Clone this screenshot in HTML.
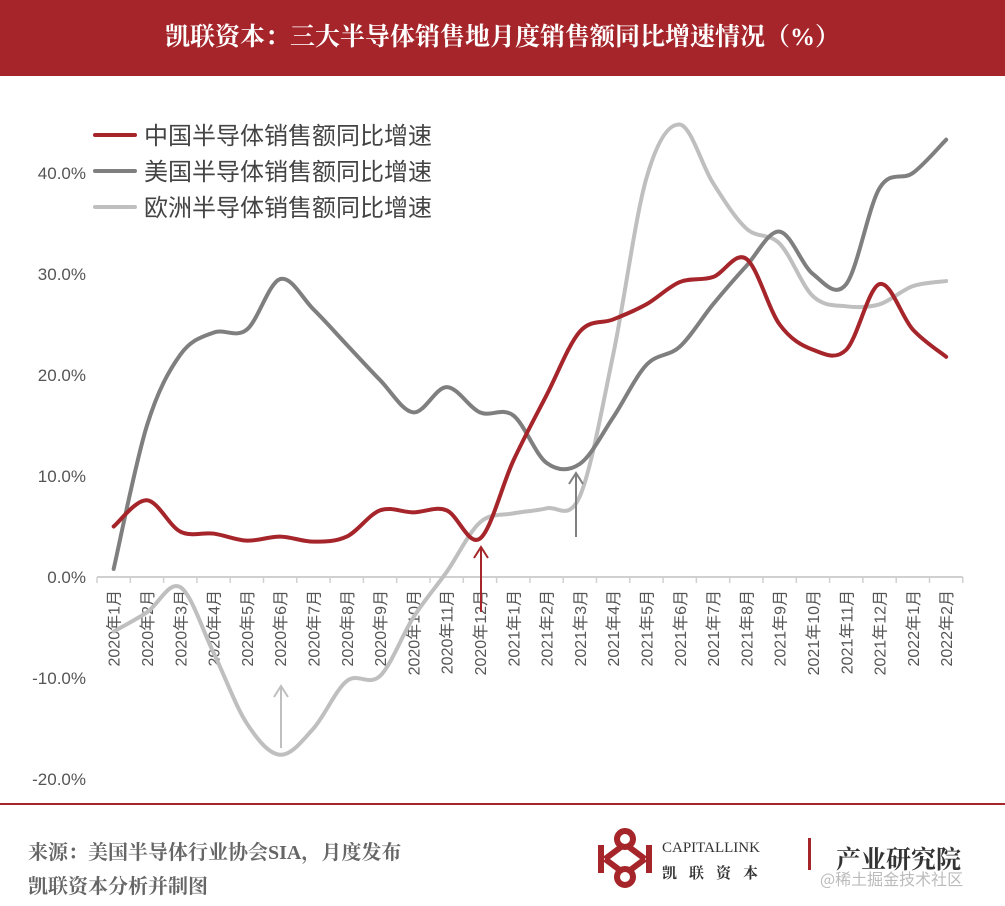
<!DOCTYPE html>
<html><head><meta charset="utf-8"><style>
body{margin:0;width:1005px;height:906px;background:#fff;overflow:hidden;font-family:"Liberation Sans","Noto Sans CJK SC",sans-serif;position:relative}
#hdr{position:absolute;left:0;top:0;width:1005px;height:76px;background:#a5252a;color:#fff;font:bold 25px "Liberation Serif","Noto Serif CJK SC",serif;text-align:center;line-height:76px}
.ft{position:absolute;font:bold 20px "Liberation Serif","Noto Serif CJK SC",serif;color:#666}
</style></head><body>
<div id="hdr">凯联资本：三大半导体销售地月度销售额同比增速情况（%）</div>
<svg id="c" width="1005" height="906" style="position:absolute;left:0;top:0"></svg>
<div style="position:absolute;left:0;top:803px;width:1005px;height:2px;background:#a5252a"></div>
<div class="ft" style="left:28px;top:836px">来源：美国半导体行业协会SIA，月度发布</div>
<div class="ft" style="left:28px;top:870px">凯联资本分析并制图</div>
<svg style="position:absolute;left:595px;top:825px" width="60" height="70">
<g fill="none" stroke="#a5252a" stroke-width="6"><circle cx="30" cy="14" r="8"/><circle cx="30" cy="52" r="8"/><path d="M6 20 L6 48 M54 20 L54 48 M10 34 L26 22 M50 34 L34 22 M10 34 L26 46 M50 34 L34 46"/></g></svg>
<div style="position:absolute;left:662px;top:840px;font:15px 'Liberation Serif',serif;color:#333">CAPITALLINK</div>
<div style="position:absolute;left:662px;top:862px;font:bold 15px 'Noto Serif CJK SC',serif;color:#333;letter-spacing:12px">凯联资本</div>
<div style="position:absolute;left:808px;top:838px;width:3px;height:32px;background:#a5252a"></div>
<div style="position:absolute;left:836px;top:840px;font:bold 25px 'Noto Serif CJK SC',serif;color:#333">产业研究院</div>
<div style="position:absolute;left:820px;top:866px;font:16px 'Noto Sans CJK SC',sans-serif;color:#bbb">@稀土掘金技术社区</div>
<script>
const categories=["2020年1月","2020年2月","2020年3月","2020年4月","2020年5月","2020年6月","2020年7月","2020年8月","2020年9月","2020年10月","2020年11月","2020年12月","2021年1月","2021年2月","2021年3月","2021年4月","2021年5月","2021年6月","2021年7月","2021年8月","2021年9月","2021年10月","2021年11月","2021年12月","2022年1月","2022年2月"];
const chinaValues=[5.0,7.6,4.5,4.3,3.6,4.0,3.5,4.0,6.6,6.4,6.6,3.8,11.5,18,24.3,25.5,27,29.2,29.7,31.5,25,22.5,22.5,29,24.5,21.8];
const usValues=[0.8,15,22,24.2,24.5,29.5,26.5,23,19.5,16.3,18.8,16.3,16,11.3,11.2,15.8,21,22.8,27,30.8,34.2,30,29,38.5,40,43.3];
const europeValues=[-5.4,-3.5,-1.0,-7.5,-14.5,-17.6,-15,-10.3,-9.8,-4,0.5,5.4,6.3,6.8,8.0,22,39.5,44.8,39,34.5,33,27.8,26.8,27,28.8,29.3];
const yTicks=[-20,-10,0,10,20,30,40];
const seriesNames=["中国半导体销售额同比增速","美国半导体销售额同比增速","欧洲半导体销售额同比增速"];
const svg=document.getElementById('c');const NS='http://www.w3.org/2000/svg';
const x0=97,step=33.3;
const xs=i=>x0+step*(i+0.5);
const ys=v=>577-v*10.1;
function mk(t,a,p){const e=document.createElementNS(NS,t);for(const k in a)e.setAttribute(k,a[k]);(p||svg).appendChild(e);return e;}
yTicks.forEach(v=>{const t=mk('text',{x:86,y:ys(v)+6,'text-anchor':'end','font-size':17,fill:'#555'});t.textContent=v.toFixed(1)+'%';

});
const ax=mk('line',{x1:x0,x2:x0+step*26,y1:577,y2:577,stroke:'#d0d0d0','stroke-width':2});


for(let i=0;i<=26;i++)mk('line',{x1:x0+step*i,x2:x0+step*i,y1:577,y2:583,stroke:'#d0d0d0','stroke-width':1.5});
categories.forEach((c,i)=>{const t=mk('text',{transform:`translate(${xs(i)+6},590) rotate(-90)`,'text-anchor':'end','font-size':16,fill:'#555'});t.textContent=c;

});
function path(vals){const p=vals.map((v,i)=>[xs(i),ys(v)]);let d=`M${p[0][0]},${p[0][1]}`;
for(let i=0;i<p.length-1;i++){const a=p[i-1]||p[i],b=p[i],c=p[i+1],e=p[i+2]||c;
d+=` C${b[0]+(c[0]-a[0])/6},${b[1]+(c[1]-a[1])/6} ${c[0]-(e[0]-b[0])/6},${c[1]-(e[1]-b[1])/6} ${c[0]},${c[1]}`;}return d;}
const cols=['#a5252a','#7f7f7f','#bfbfbf'];
[[europeValues,'europe-line'],[usValues,'us-line'],[chinaValues,'china-line']].forEach(([v,n],k)=>{
const l=mk('path',{d:path(v),fill:'none',stroke:cols[2-k],'stroke-width':4,'stroke-linecap':'round'});

});
function arrow(x,y1,y2,col,n){const g=mk('g',{stroke:col,'stroke-width':2,fill:'none'});


mk('path',{d:`M${x},${y1} L${x},${y2} M${x-7},${y2+11} L${x},${y2} L${x+7},${y2+11}`},g);}
arrow(481,612,547,'#a5252a','china-arrow');
arrow(576,537,473,'#7f7f7f','us-arrow');
arrow(281,748,686,'#bfbfbf','europe-arrow');
seriesNames.forEach((s,k)=>{const y=135+k*36;
const g=mk('g',{});


mk('line',{x1:95,x2:135,y1:y,y2:y,stroke:cols[k],'stroke-width':4,'stroke-linecap':'round'},g);
const t=mk('text',{x:144,y:y+9,'font-size':24,fill:'#444'},g);t.textContent=s;});
</script>
</body></html>
